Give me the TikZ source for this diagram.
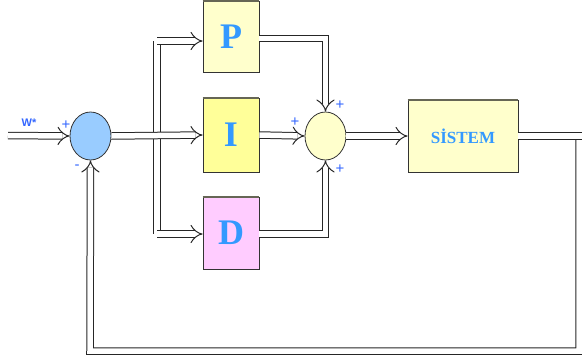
\documentclass[tikz,border=0pt]{standalone}
\usepackage{fontspec}
\setmainfont{Liberation Serif}
\setsansfont{Liberation Sans}
\usetikzlibrary{arrows.meta,shapes.geometric}
\definecolor{lblue}{HTML}{3399FF}
\definecolor{signblue}{HTML}{3366FF}
\definecolor{cream}{HTML}{FFFFCC}
\definecolor{lemon}{HTML}{FFFF99}
\definecolor{rose}{HTML}{FFCCFF}
\definecolor{sky}{HTML}{99CCFF}
\definecolor{topedge}{HTML}{666655}
\tikzset{
  pipe/.style={line width=1pt, draw=black!85, double=white, double distance=5.5pt},
  tip/.style={-{Implies[length=4pt]}},
  blk/.style={draw=black!80, line width=0.8pt, minimum width=56pt, inner sep=0pt,
    font=\bfseries\fontsize{36}{36}\selectfont, text=lblue},
  sumnode/.style={ellipse, draw=black!80, line width=0.8pt, minimum width=41pt, minimum height=48pt, inner sep=0pt},
  sgn/.style={font=\sffamily\fontsize{15}{15}\selectfont, text=signblue, inner sep=0pt}
}
\begin{document}
\begin{tikzpicture}[x=1pt,y=-1pt]
\useasboundingbox (0,0) rectangle (582,360);

% controller blocks
\node[blk, fill=cream, minimum height=71pt] (P) at (231,36.5) {P};
\node[blk, fill=lemon, minimum height=74pt] (I) at (231,135) {I};
\node[blk, fill=rose, minimum height=72pt] (D) at (231,233) {D};
\node[blk, fill=cream, minimum width=110pt, minimum height=72pt,
      font=\bfseries\fontsize{17}{17}\selectfont] (S) at (463,136) {SİSTEM};
\foreach \b in {P,I,D,S}
  \draw[topedge, line width=2.2pt] (\b.north west) -- (\b.north east);

% summing junctions
\node[sumnode, fill=sky] (c1) at (90.5,136) {};
\node[sumnode, fill=cream] (c2) at (325.5,136) {};

% distribution bus feeding P and D
\coordinate (btop) at (157,41);
\coordinate (bbot) at (157,234);
\draw[pipe] (btop) -- (bbot);
\draw[pipe,tip] (btop) -- (P.west|-btop);
\draw[pipe,tip] (bbot) -- (D.west|-bbot);

% reference input and error signal
\coordinate (win) at (8,135.5);
\draw[pipe,tip] (win) -- (c1.west);
\draw[pipe,tip] (c1.east) -- (I.west);

% controller outputs into the second junction
\coordinate (pout) at (259,38.5);
\coordinate (dout) at (259,234);
\draw[pipe,tip] (pout) -| (c2.north);
\draw[pipe,tip] (I.east) -- (c2.west);
\draw[pipe,tip] (dout) -| (c2.south);

% plant input, output and feedback loop
\draw[pipe,tip] (c2.east) -- (S.west);
\coordinate (fbr) at (579,136);
\coordinate (fbrb) at (579,351);
\coordinate (fblb) at (90,351);
\coordinate (outend) at (590,136);
\draw[pipe,tip] (S.east) -- (fbr) -- (fbrb) -- (fblb) -- (c1.south);
\draw[pipe] (S.east) -- (outend);

% signs and labels
\node[sgn, font=\sffamily\bfseries\fontsize{11}{11}\selectfont] (w) at (29,123) {W*};
\node[sgn] (s1) at (66,125) {+};
\node[sgn] (s2) at (77,167) {-};
\node[sgn] (s3) at (340,105) {+};
\node[sgn] (s4) at (295,122) {+};
\node[sgn] (s5) at (340,169) {+};
\end{tikzpicture}
\end{document}
